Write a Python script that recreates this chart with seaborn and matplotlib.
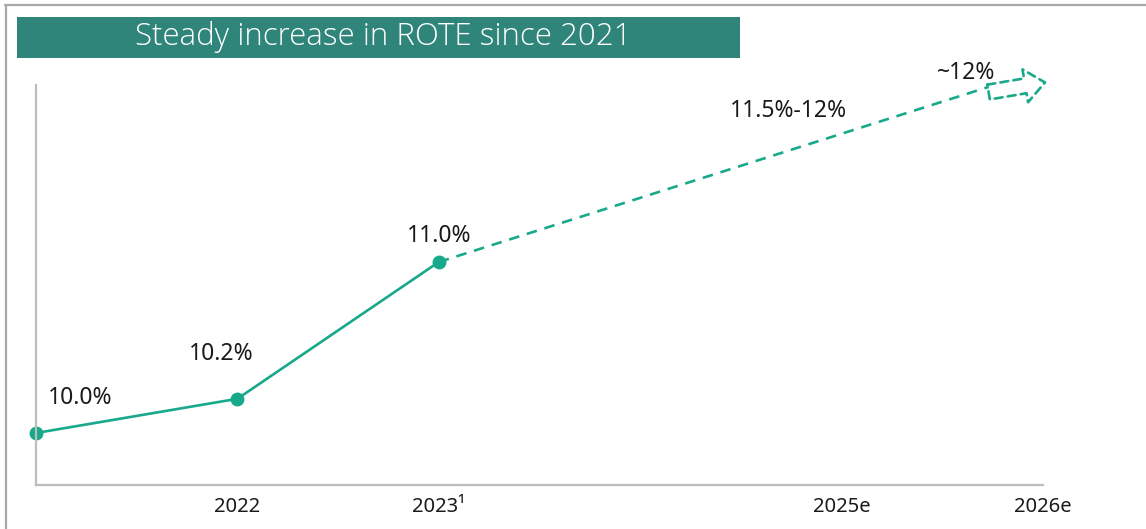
import numpy as np
import matplotlib
matplotlib.use("Agg")
import matplotlib.pyplot as plt
import seaborn as sns
from matplotlib.patches import Rectangle
from matplotlib.lines import Line2D

# ROTE (%) - actuals and outlook
years_act = [2021, 2022, 2023]
rote_act = [10.0, 10.2, 11.0]
labels_act = ["10.0%", "10.2%", "11.0%"]

years_fc = [2023, 2025, 2026]
rote_fc = [11.0, 11.75, 12.0]
labels_fc = ["11.5%-12%", "~12%"]

tick_years = [2022, 2023, 2025, 2026]
tick_labels = ["2022", "2023\u00b9", "2025e", "2026e"]

title = "Steady increase in ROTE since 2021"

green = "#17A98A"
teal = "#2F8579"
grey = "#BDBDBD"

sns.set_theme(style="white")
plt.rcParams["font.family"] = ["Noto Sans", "DejaVu Sans"]

fig = plt.figure(figsize=(11.46, 5.29), dpi=100)
ax = fig.add_axes([0.0314, 0.0832, 0.8787, 0.7561])

# actual values: solid line + dots
sns.lineplot(x=years_act, y=rote_act, ax=ax, color=green, linewidth=1.9,
             marker="o", markersize=10, markeredgewidth=0, clip_on=False)

# outlook: straight dashed line through the 2025 range, running on to the arrow tail
tail_x = 2025.73
slope = (rote_fc[1] - rote_fc[0]) / (years_fc[1] - years_fc[0])
tail_y = rote_fc[0] + slope * (tail_x - years_fc[0])
sns.lineplot(x=[years_fc[0], tail_x], y=[rote_fc[0], tail_y], ax=ax, color=green,
             linewidth=1.9, linestyle=(0, (4, 3)), clip_on=False, sort=False)

# hollow dashed arrow at the end
ax.annotate("", xy=(years_fc[-1] + 0.01, rote_fc[-1] + 0.05), xytext=(tail_x, tail_y - 0.03),
            arrowprops=dict(arrowstyle="simple,head_length=0.6,head_width=1.0,tail_width=0.45",
                            mutation_scale=24, fc="none", ec=green, lw=1.9,
                            linestyle=(0, (3, 2)), shrinkA=0, shrinkB=0),
            annotation_clip=False)

# data labels
offsets_act = [(44, 35), (-16, 45), (0, 26)]
for x, y, lab, (dx, dy) in zip(years_act, rote_act, labels_act, offsets_act):
    ax.annotate(lab, (x, y), xytext=(dx, dy), textcoords="offset pixels",
                ha="center", va="center", fontsize=16.5, color="#1a1a1a")
ax.annotate(labels_fc[0], (years_fc[1], rote_fc[1]), xytext=(-53, 23),
            textcoords="offset pixels", ha="center", va="center",
            fontsize=16.5, color="#1a1a1a")
ax.annotate(labels_fc[1], (years_fc[2], rote_fc[2]), xytext=(-77, 18),
            textcoords="offset pixels", ha="center", va="center",
            fontsize=16.5, color="#1a1a1a", annotation_clip=False)

ax.set_xlim(2021, 2026)
ax.set_ylim(9.696, 12.035)
ax.set_xticks(tick_years)
ax.set_xticklabels(tick_labels, fontsize=14.5, color="#1a1a1a")
ax.set_yticks([])
ax.tick_params(axis="x", length=0, pad=9)
ax.set_xlabel("")
ax.set_ylabel("")
for side in ["top", "right"]:
    ax.spines[side].set_visible(False)
for side in ["left", "bottom"]:
    ax.spines[side].set_color(grey)
    ax.spines[side].set_linewidth(1.6)
ax.set_zorder(2)
ax.patch.set_alpha(0)

# title banner
fig.patches.append(Rectangle((0.0148, 0.8904), 0.6309, 0.0775, transform=fig.transFigure,
                             facecolor=teal, edgecolor="none", zorder=1))
fig.text(0.334, 0.930, title, ha="center", va="center", color="white",
         fontsize=22.5, fontfamily="Open Sans", fontweight="light")

# outer frame
fig.lines.append(Line2D([0.0045, 1.0], [0.9905, 0.9905], transform=fig.transFigure,
                        color="#A8A8A8", linewidth=1.6))
fig.lines.append(Line2D([0.0052, 0.0052], [0.0, 0.9905], transform=fig.transFigure,
                        color="#A8A8A8", linewidth=1.6))

fig.savefig("out.png", dpi=100, facecolor="white")
